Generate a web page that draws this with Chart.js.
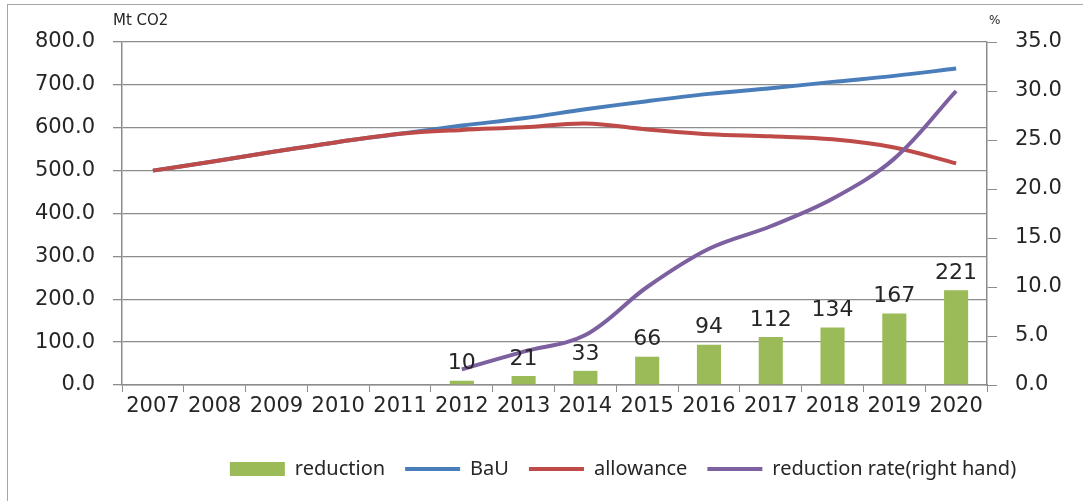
<!DOCTYPE html>
<html>
<head>
<meta charset="utf-8">
<script src="https://cdn.jsdelivr.net/npm/chart.js@4"></script>
<style>
  html, body { margin: 0; background: #fff; }
  #wrap { position: relative; width: 1083px; height: 501px; overflow: hidden; }
  #frame { position: absolute; left: 7px; top: 4px; width: 1120px; height: 540px; border: 1px solid #a6a6a6; pointer-events: none; }
</style>
</head>
<body>
<div id="wrap">
  <canvas id="chart" width="1083" height="501"></canvas>
  <div id="frame"></div>
</div>
<script>
const years = ['2007', '2008', '2009', '2010', '2011', '2012', '2013', '2014', '2015', '2016', '2017', '2018', '2019', '2020'];
const reduction = [null, null, null, null, null, 10, 21, 33, 66, 94, 112, 134, 167, 221];
const bau = [500, 522, 545, 567, 586, 605, 622, 643, 662, 679, 692, 707, 721, 738];
const allowance = [500, 522, 545, 567, 586, 595, 601, 610, 596, 585, 580, 573, 554, 517];
const reductionRate = [null, null, null, null, null, 1.6, 3.4, 5.1, 10.0, 13.9, 16.2, 19.0, 23.1, 30.0];

const gridColor = '#8c8c8c';
const textColor = '#262626';
const axisFont = { family: 'DejaVu Sans', size: 21 };

// values printed above each reduction bar
const barLabels = {
  id: 'barLabels',
  afterDatasetsDraw(chart) {
    const ctx = chart.ctx;
    const meta = chart.getDatasetMeta(0);
    ctx.save();
    ctx.font = '22px "DejaVu Sans"';
    ctx.fillStyle = textColor;
    ctx.textAlign = 'center';
    ctx.textBaseline = 'bottom';
    meta.data.forEach((bar, i) => {
      const v = reduction[i];
      if (v === null) return;
      ctx.fillText(String(v), bar.x, bar.y - 6);
    });
    ctx.restore();
  }
};

// unit captions above both value axes
const unitCaptions = {
  id: 'unitCaptions',
  afterDraw(chart) {
    const ctx = chart.ctx;
    const { left, right } = chart.chartArea;
    ctx.save();
    ctx.fillStyle = textColor;
    ctx.textBaseline = 'middle';
    ctx.textAlign = 'left';
    ctx.font = '15px "DejaVu Sans"';
    ctx.fillText('Mt CO2', left - 9, 21);
    ctx.font = '12px "DejaVu Sans"';
    ctx.fillText('%', right + 2, 21);
    ctx.restore();
  }
};

// move the legend row a bit right of the canvas centre
const legendShift = {
  id: 'legendShift',
  beforeDraw(chart) {
    const lg = chart.legend;
    if (!lg) return;
    const shift = 623 - (lg.left + lg.right) / 2;
    lg.left += shift;
    lg.right += shift;
  }
};

new Chart(document.getElementById('chart'), {
  data: {
    labels: years,
    datasets: [
      {
        type: 'bar',
        label: 'reduction',
        data: reduction,
        backgroundColor: '#9bbb59',
        barPercentage: 0.39,
        categoryPercentage: 1,
        yAxisID: 'y',
        order: 4
      },
      {
        type: 'line',
        label: 'BaU',
        data: bau,
        borderColor: '#4a7ebb',
        borderWidth: 4,
        pointRadius: 0,
        tension: 0.35,
        yAxisID: 'y',
        order: 3
      },
      {
        type: 'line',
        label: 'allowance',
        data: allowance,
        borderColor: '#be4b48',
        borderWidth: 4,
        pointRadius: 0,
        tension: 0.35,
        yAxisID: 'y',
        order: 2
      },
      {
        type: 'line',
        label: 'reduction rate(right hand)',
        data: reductionRate,
        borderColor: '#7d60a0',
        borderWidth: 4,
        pointRadius: 0,
        tension: 0.35,
        yAxisID: 'y1',
        order: 1
      }
    ]
  },
  options: {
    responsive: false,
    animation: false,
    layout: { padding: { top: 42, bottom: 12, left: 0, right: 0 } },
    plugins: {
      tooltip: { enabled: false },
      legend: {
        position: 'bottom',
        labels: {
          usePointStyle: true,
          pointStyleWidth: 55,
          boxHeight: 14,
          padding: 20,
          color: textColor,
          font: { family: 'Noto Sans', size: 20 },
          generateLabels(chart) {
            return chart.data.datasets.map((ds, i) => {
              const isBar = ds.type === 'bar';
              return {
                text: ds.label,
                datasetIndex: i,
                pointStyle: isBar ? 'rect' : 'line',
                fillStyle: isBar ? ds.backgroundColor : ds.borderColor,
                strokeStyle: isBar ? 'rgba(0,0,0,0)' : ds.borderColor,
                lineWidth: isBar ? 0 : 4,
                fontColor: textColor,
                hidden: false
              };
            });
          }
        }
      }
    },
    scales: {
      x: {
        offset: true,
        grid: { offset: true, drawOnChartArea: false, tickLength: 7, color: gridColor },
        border: { color: gridColor, width: 1.5 },
        ticks: { autoSkip: false, maxRotation: 0, minRotation: 0, padding: 2, color: textColor, font: axisFont },
        afterFit(scale) { scale.height = 54; }
      },
      y: {
        position: 'left',
        min: 0,
        max: 800,
        grid: { color: gridColor, lineWidth: 1.3, tickLength: 9 },
        border: { color: gridColor, width: 1.5 },
        ticks: {
          stepSize: 100,
          padding: 18,
          color: textColor,
          font: axisFont,
          callback: v => v.toFixed(1)
        },
        afterFit(scale) { scale.width = 122; }
      },
      y1: {
        position: 'right',
        min: 0,
        max: 35,
        grid: { drawOnChartArea: false, color: gridColor, tickLength: 10 },
        border: { color: gridColor, width: 1.5 },
        ticks: {
          stepSize: 5,
          padding: 18,
          color: textColor,
          font: axisFont,
          callback: v => v.toFixed(1)
        },
        afterFit(scale) { scale.width = 96; }
      }
    }
  },
  plugins: [barLabels, unitCaptions, legendShift]
});
</script>
</body>
</html>
